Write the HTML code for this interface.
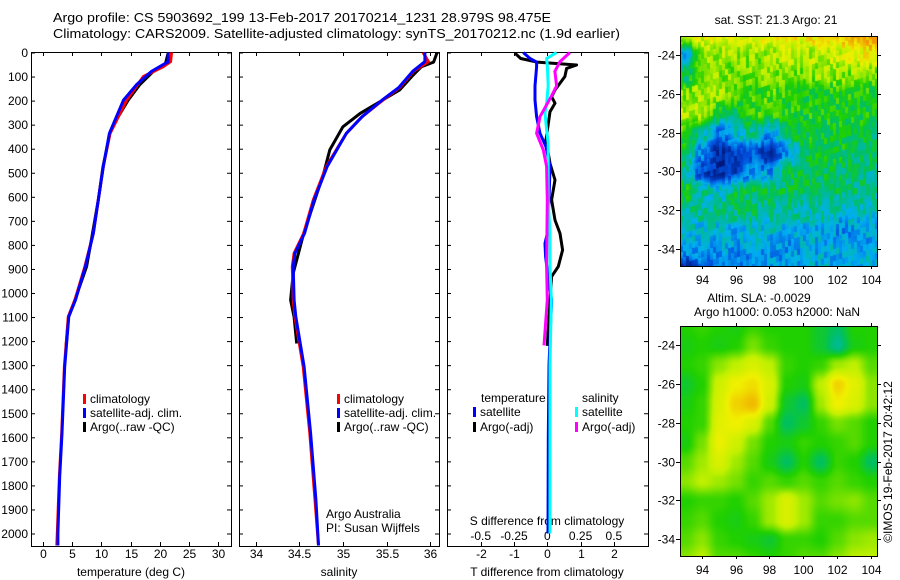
<!DOCTYPE html>
<html><head><meta charset="utf-8">
<style>
html,body{margin:0;padding:0;background:#fff;}
svg{display:block;font-family:"Liberation Sans",sans-serif;}
text{font-size:12px;fill:#000;}
canvas{position:absolute;}
#wrap{position:relative;width:900px;height:580px;}
</style></head>
<body>
<div id="wrap">
<canvas id="sst" width="197" height="230" style="left:680px;top:36px;width:197px;height:230px;"></canvas>
<canvas id="sla" width="197" height="230" style="left:680px;top:326px;width:197px;height:230px;"></canvas>
<svg id="svg" width="900" height="580" style="position:absolute;left:0;top:0;"></svg>
</div>
<script>
// ---------- data ----------
const depthTicks=[0,100,200,300,400,500,600,700,800,900,1000,1100,1200,1300,1400,1500,1600,1700,1800,1900,2000];
const tempTicks=[0,5,10,15,20,25,30];
const salTicks=[34,34.5,35,35.5,36];
const tdiffTicks=[-2,-1,0,1,2];
const sdiffTicks=[-0.5,-0.25,0,0.25,0.5];
const sdiffTickLabels=["-0.5","-0.25","0","0.25","0.5"];
const lonTicks=[94,96,98,100,102,104];
const latTicks=[-24,-26,-28,-30,-32,-34];

const tClimDepth=[0,38,59,100,198,336,474,613,752,890,1029,1098,1306,1583,1763,2000,2050];
const tClimVal=[22.0,21.85,20.6,17.2,14.35,11.5,10.35,9.5,8.65,7.2,5.5,4.38,3.7,3.24,2.85,2.5,2.4];
const tSatDepth=[0,40,50,78,133,198,336,474,613,752,890,1029,1098,1306,1583,1763,2000,2050];
const tSatVal=[21.45,21.4,20.6,18.6,16.05,13.8,11.4,10.35,9.5,8.65,7.3,5.6,4.45,3.75,3.3,2.9,2.6,2.6];
const tArgoDepth=[0,52,78,133,198,267,336,474,613,752,890,1029,1100,1220];
const tArgoVal=[21.45,20.9,18.9,16.6,14.6,12.9,11.5,10.3,9.5,8.5,7.5,5.5,4.4,4.0];

const sClimDepth=[0,38,78,146,198,267,336,474,613,752,835,890,1029,1098,1306,1583,1860,2050];
const sClimVal=[35.92,35.98,35.81,35.65,35.46,35.22,35.04,34.81,34.66,34.55,34.44,34.42,34.43,34.45,34.545,34.62,34.68,34.72];
const sSatDepth=[0,38,78,146,198,267,336,474,613,752,835,890,1029,1098,1306,1583,1860,2050];
const sSatVal=[35.94,35.94,35.8,35.64,35.45,35.22,35.04,34.82,34.67,34.56,34.45,34.43,34.44,34.46,34.555,34.63,34.69,34.72];
const sArgoDepth=[0,40,59,100,156,253,309,405,502,752,918,1029,1100,1210];
const sArgoVal=[36.08,36.04,35.9,35.79,35.65,35.2,35.0,34.85,34.78,34.55,34.43,34.4,34.44,34.47];

const tdSatDepth=[0,25,40,60,139,198,267,336,392,474,613,752,794,849,930,1029,1300,1600,2000];
const tdSatVal=[-0.72,-0.52,-0.32,-0.32,-0.37,-0.37,-0.32,-0.22,-0.04,0.08,0.05,0.0,-0.07,-0.05,0.02,0.13,0.05,0.03,0.02];
const tdArgoDepth=[3,25,40,52,66,100,156,184,211,246,364,461,530,613,697,752,821,890,932,1029,1220];
const tdArgoVal=[-0.97,-0.8,-0.3,0.88,0.58,0.53,0.23,0.13,0.23,0.08,-0.04,0.08,0.23,0.13,0.23,0.38,0.46,0.33,0.13,0.08,0.0];
const sdSatDepth=[0,25,52,139,211,253,320,378,474,613,752,890,1029,1300,1600,2000];
const sdSatVal=[0.07,-0.005,0.0,0.007,-0.005,-0.017,-0.005,0.007,0.007,0.007,0.02,0.02,0.03,0.02,0.02,0.02];
const sdArgoDepth=[0,38,78,139,180,267,336,405,474,613,890,1029,1218];
const sdArgoVal=[0.17,0.095,0.057,0.07,0.032,-0.055,-0.08,-0.03,-0.005,0.0,-0.005,0.0,-0.025];

const mapLats=[-23,-24,-25,-26,-27,-28,-29,-30,-31,-32,-33,-34,-35];
const mapLons=[93,94,95,96,97,98,99,100,101,102,103,104];
const sstGrid=[
[0.8,0.8,0.82,0.82,0.8,0.82,0.85,0.85,0.88,0.9,0.95,0.98],
[0.3,0.7,0.72,0.72,0.7,0.72,0.75,0.72,0.75,0.78,0.82,0.85],
[0.5,0.7,0.7,0.65,0.68,0.7,0.68,0.68,0.7,0.7,0.68,0.65],
[0.68,0.72,0.7,0.65,0.62,0.65,0.6,0.58,0.58,0.58,0.58,0.58],
[0.75,0.75,0.55,0.5,0.62,0.6,0.58,0.58,0.58,0.56,0.56,0.56],
[0.6,0.45,0.25,0.4,0.45,0.3,0.5,0.55,0.55,0.55,0.55,0.5],
[0.5,0.3,0.1,0.15,0.2,0.1,0.3,0.5,0.55,0.55,0.5,0.5],
[0.45,0.15,0.1,0.15,0.3,0.3,0.5,0.52,0.52,0.5,0.5,0.45],
[0.55,0.45,0.4,0.5,0.5,0.5,0.5,0.5,0.5,0.48,0.48,0.45],
[0.45,0.45,0.45,0.48,0.48,0.45,0.45,0.42,0.45,0.4,0.42,0.4],
[0.4,0.38,0.38,0.35,0.38,0.38,0.35,0.35,0.35,0.3,0.3,0.32],
[0.3,0.32,0.32,0.3,0.32,0.32,0.3,0.32,0.35,0.35,0.32,0.35],
[0.1,0.2,0.3,0.28,0.3,0.3,0.32,0.32,0.35,0.35,0.35,0.35]];
const slaGrid=[
[0.6,0.62,0.6,0.58,0.62,0.6,0.6,0.6,0.55,0.5,0.6,0.6],
[0.58,0.6,0.58,0.6,0.68,0.62,0.6,0.6,0.55,0.45,0.58,0.6],
[0.6,0.62,0.7,0.75,0.8,0.75,0.62,0.6,0.62,0.72,0.75,0.65],
[0.55,0.6,0.78,0.85,0.88,0.8,0.6,0.58,0.75,0.9,0.82,0.7],
[0.58,0.62,0.8,0.9,0.94,0.78,0.55,0.5,0.72,0.85,0.8,0.7],
[0.6,0.62,0.82,0.85,0.8,0.65,0.5,0.55,0.62,0.68,0.65,0.6],
[0.58,0.68,0.84,0.78,0.68,0.6,0.58,0.62,0.6,0.62,0.65,0.6],
[0.65,0.72,0.8,0.72,0.65,0.58,0.5,0.6,0.5,0.62,0.6,0.5],
[0.7,0.75,0.72,0.68,0.62,0.65,0.62,0.65,0.62,0.65,0.62,0.6],
[0.6,0.62,0.62,0.6,0.65,0.72,0.8,0.72,0.65,0.68,0.7,0.65],
[0.62,0.65,0.6,0.58,0.62,0.72,0.8,0.72,0.62,0.62,0.65,0.65],
[0.65,0.7,0.62,0.6,0.58,0.55,0.62,0.62,0.6,0.65,0.7,0.72],
[0.7,0.75,0.65,0.65,0.62,0.6,0.62,0.65,0.65,0.7,0.75,0.75]];

// ---------- helpers ----------
const NS="http://www.w3.org/2000/svg";
const svg=document.getElementById('svg');
function el(tag,attrs,parent){const e=document.createElementNS(NS,tag);for(const k in attrs)e.setAttribute(k,attrs[k]);(parent||svg).appendChild(e);return e;}
function txt(x,y,s,anchor,parent){const t=el('text',{x:x,y:y,'text-anchor':anchor||'start'},parent);t.textContent=s;return t;}
const yD=d=>52.5+0.2405*d;
const xT=v=>42.7+5.855*v;
const xS=v=>255.7+87.2*(v-34);
const xTD=v=>547.3+33.3*v;
const xSD=v=>547.3+133.2*v;
const lonX=v=>701.7+16.93*(v-94);
const lat1Y=v=>55+19.4*(-24-v);
const lat2Y=v=>345+19.43*(-24-v);

function frame(x0,y0,x1,y1,name){
  const r=el('rect',{x:x0+0.5,y:y0+0.5,width:x1-x0,height:y1-y0,fill:'none',stroke:'#000','stroke-width':1});
  
  
}
function line(xs,ys,color,name,w){
  const pts=xs.map((x,i)=>x.toFixed(1)+','+ys[i].toFixed(1)).join(' ');
  const p=el('polyline',{points:pts,fill:'none',stroke:color,'stroke-width':w||3,'stroke-linejoin':'round'});
  
  
}

// titles
const t1=txt(53,22,"Argo profile: CS 5903692_199 13-Feb-2017 20170214_1231 28.979S 98.475E");


t1.setAttribute('style','font-size:13px');
t1.setAttribute('textLength','498');
t1.setAttribute('lengthAdjust','spacingAndGlyphs');
const t2=txt(53,38,"Climatology: CARS2009. Satellite-adjusted climatology: synTS_20170212.nc (1.9d earlier)");


t2.setAttribute('style','font-size:13px');
t2.setAttribute('textLength','567');
t2.setAttribute('lengthAdjust','spacingAndGlyphs');

// panel frames
const panels=[[31,52,231,546],[239,52,439,546],[447,52,648,546]];
frame(31,52,231,546,'temperature-panel');
frame(239,52,439,546,'salinity-panel');
frame(447,52,648,546,'difference-panel');

// depth ticks + labels
depthTicks.forEach(d=>{
  const y=yD(d)+0.5;
  panels.forEach(p=>{
    el('line',{x1:p[0],x2:p[0]+4,y1:y,y2:y,stroke:'#000'});
    el('line',{x1:p[2]-4,x2:p[2],y1:y,y2:y,stroke:'#000'});
  });
  const l=txt(28,y+4,String(d),'end');
  
  
});
function xticks(vals,fx,p,labels,ly){
  vals.forEach((v,i)=>{
    const x=Math.round(fx(v))+0.5;
    el('line',{x1:x,x2:x,y1:p[1],y2:p[1]+4,stroke:'#000'});
    el('line',{x1:x,x2:x,y1:p[3]-4,y2:p[3],stroke:'#000'});
    const l=txt(x,ly,labels?labels[i]:String(v),'middle');
    
    
  });
}
xticks(tempTicks,xT,panels[0],null,558);
xticks(salTicks,xS,panels[1],null,558);
xticks(tdiffTicks,xTD,panels[2],null,558);
sdiffTicks.forEach((v,i)=>{
  const l=txt(xSD(v),540,sdiffTickLabels[i],'middle');
  
  
});
let a;
a=txt(131,576,"temperature (deg C)",'middle');
a=txt(339,576,"salinity",'middle');
a=txt(547,576,"T difference from climatology",'middle');
a=txt(547,525,"S difference from climatology",'middle');

// series
line(tArgoVal.map(xT),tArgoDepth.map(yD),'#000','temp-argo-line');
line(tClimVal.map(xT),tClimDepth.map(yD),'#f00','temp-climatology-line');
line(tSatVal.map(xT),tSatDepth.map(yD),'#00f','temp-satellite-line');
line(sArgoVal.map(xS),sArgoDepth.map(yD),'#000','sal-argo-line');
line(sClimVal.map(xS),sClimDepth.map(yD),'#f00','sal-climatology-line');
line(sSatVal.map(xS),sSatDepth.map(yD),'#00f','sal-satellite-line');
line(tdArgoVal.map(xTD),tdArgoDepth.map(yD),'#000','tdiff-argo-line');
line(tdSatVal.map(xTD),tdSatDepth.map(yD),'#00f','tdiff-satellite-line');
line(sdSatVal.map(xSD),sdSatDepth.map(yD),'#0ff','sdiff-satellite-line');
line(sdArgoVal.map(xSD),sdArgoDepth.map(yD),'#f0f','sdiff-argo-line');

// legends
function leg(x,y,color,label,name){
  const g=el('g',{});
  
  
  el('rect',{x:x,y:y-9,width:3,height:10,fill:color},g);
  txt(x+7,y,label,'start',g);
}
leg(83,403,'#f00','climatology','legend-temp-climatology');
leg(83,417,'#00f','satellite-adj. clim.','legend-temp-satellite');
leg(83,431,'#000','Argo(..raw -QC)','legend-temp-argo');
leg(337,403,'#f00','climatology','legend-sal-climatology');
leg(337,417,'#00f','satellite-adj. clim.','legend-sal-satellite');
leg(337,431,'#000','Argo(..raw -QC)','legend-sal-argo');
a=txt(481,402,'temperature');
a=txt(582,402,'salinity');
leg(473,416,'#00f','satellite','legend-tdiff-satellite');
leg(473,431,'#000','Argo(-adj)','legend-tdiff-argo');
leg(575,416,'#0ff','satellite','legend-sdiff-satellite');
leg(575,431,'#f0f','Argo(-adj)','legend-sdiff-argo');
a=txt(326,518,'Argo Australia');
a=txt(326,532,'PI: Susan Wijffels');

// maps
const cstops=[[0,[0,16,112]],[0.2,[0,80,224]],[0.35,[0,176,240]],[0.5,[0,192,96]],[0.6,[32,208,0]],[0.75,[192,240,0]],[0.85,[240,240,0]],[1,[240,150,0]]];
function cmap(v){
  for(let i=1;i<cstops.length;i++){
    if(v<=cstops[i][0]){const a=cstops[i-1],b=cstops[i];const f=(v-a[0])/(b[0]-a[0]);
      return a[1].map((c,k)=>Math.round(c+(b[1][k]-c)*f));}
  }
  return cstops[cstops.length-1][1];
}
function drawMap(id,grid,latY,smooth){
  const cv=document.getElementById(id),ctx=cv.getContext('2d');
  const ox=680,oy=parseFloat(cv.style.top);
  const W=cv.width,H=cv.height;const img=ctx.createImageData(W,H);
  for(let py=0;py<H;py++){for(let px=0;px<W;px++){
    const lon=94+(px+ox-701.7)/16.93;
    const fy=(py+oy-latY(mapLats[0]))/(latY(mapLats[1])-latY(mapLats[0]));
    const fx=lon-mapLons[0];
    const i0=Math.max(0,Math.min(mapLats.length-2,Math.floor(fy))),j0=Math.max(0,Math.min(mapLons.length-2,Math.floor(fx)));
    const u=Math.max(0,Math.min(1,fy-i0)),w=Math.max(0,Math.min(1,fx-j0));
    const su=u*u*(3-2*u),sw=w*w*(3-2*w);
    let v=(grid[i0][j0]*(1-sw)+grid[i0][j0+1]*sw)*(1-su)+(grid[i0+1][j0]*(1-sw)+grid[i0+1][j0+1]*sw)*su;
    if(!smooth){
      const cx=Math.floor(px/3),cy=Math.floor((py+cx)/6);
      const h=((cx*73856093)^(cy*19349663))>>>0;
      const d=((h%1000)/1000-0.5);
      v=Math.max(0,Math.min(1,v+d*0.18));
    }
    const c=cmap(v);const k=(py*W+px)*4;img.data[k]=c[0];img.data[k+1]=c[1];img.data[k+2]=c[2];img.data[k+3]=255;}}
  ctx.putImageData(img,0,0);
}
drawMap('sst',sstGrid,lat1Y,false);
drawMap('sla',slaGrid,lat2Y,true);

function mapAxes(y0,y1,latY,lonLabelY,name){
  frame(680,y0,877,y1,name);
  lonTicks.forEach(v=>{const x=Math.round(lonX(v))+0.5;
    el('line',{x1:x,x2:x,y1:y0-3,y2:y0,stroke:'#000'});
    el('line',{x1:x,x2:x,y1:y1,y2:y1+3,stroke:'#000'});
    const l=txt(x,lonLabelY,String(v),'middle');});
  latTicks.forEach(v=>{const y=Math.round(latY(v))+0.5;
    el('line',{x1:676,x2:680,y1:y,y2:y,stroke:'#000'});
    el('line',{x1:877,x2:881,y1:y,y2:y,stroke:'#000'});
    const l=txt(675,y+4,String(v),'end');});
}
mapAxes(36,266,lat1Y,284,'sst-map-frame');
mapAxes(326,556,lat2Y,574,'sla-map-frame');
a=txt(776,24,'sat. SST: 21.3 Argo: 21','middle');
a=txt(759,302,'Altim. SLA: -0.0029','middle');
a=txt(777,316,'Argo h1000: 0.053 h2000: NaN','middle');
a=txt(0,0,'©IMOS 19-Feb-2017 20:42:12','middle');a.setAttribute('transform','translate(892,462) rotate(-90)');
</script>
</body></html>
